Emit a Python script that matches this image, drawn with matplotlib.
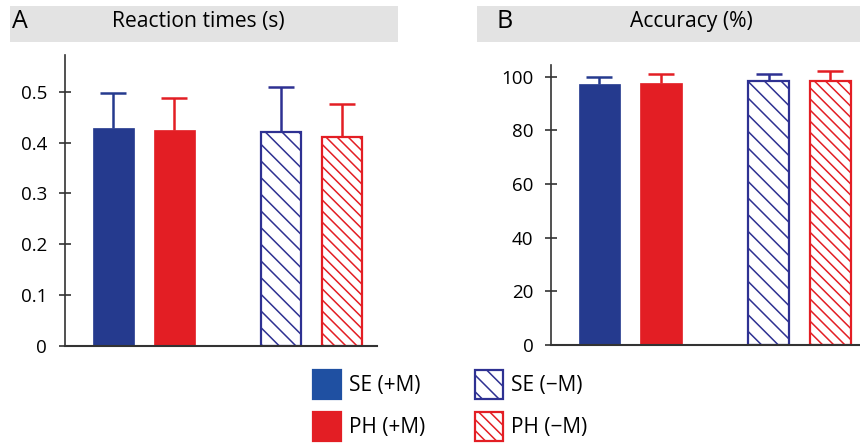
import matplotlib
matplotlib.use("Agg")
import matplotlib.pyplot as plt
from matplotlib.patches import Rectangle

plt.rcParams['font.family'] = ['Open Sans', 'DejaVu Sans']
plt.rcParams['hatch.linewidth'] = 1.1

# data
groups = ['SE (+M)', 'PH (+M)', 'SE (\u2212M)', 'PH (\u2212M)']
rt_mean = [0.428, 0.424, 0.421, 0.410]
rt_err = [0.070, 0.064, 0.088, 0.066]
acc_mean = [97.5, 97.8, 98.3, 98.5]
acc_err = [2.5, 3.2, 2.7, 3.7]

blue = '#253a8e'
red = '#e31e24'
hblue = '#2e3192'
legend_blue = '#1f50a2'
face = ['fill', 'fill', 'hatch', 'hatch']
colors = [blue, red, hblue, red]
hatches = [None, None, '\\\\', '\\\\\\']
xpos = [1, 2, 3.75, 4.75]

W, H = 860, 443
fig = plt.figure(figsize=(W / 100, H / 100), dpi=100)


def px_axes(left, right, top, bottom):
    return fig.add_axes([left / W, 1 - bottom / H, (right - left) / W, (bottom - top) / H])


def draw_bars(ax, means, errs):
    for i in range(len(means)):
        if face[i] == 'fill':
            ax.bar(xpos[i], means[i], width=0.67, color=colors[i], edgecolor=colors[i], linewidth=0.5, zorder=2)
        else:
            ax.bar(xpos[i], means[i], width=0.67, facecolor='white', edgecolor=colors[i],
                   hatch=hatches[i], linewidth=1.6, zorder=2)
        eb = ax.errorbar(xpos[i], means[i], yerr=[[0], [errs[i]]], fmt='none', ecolor=colors[i],
                         elinewidth=1.8, capsize=9.5, capthick=1.8, zorder=1)
        # only keep the upper cap
        eb[1][0].set_visible(False)
    for s in ['top', 'right']:
        ax.spines[s].set_visible(False)
    ax.spines['left'].set_color('#333333')
    ax.spines['bottom'].set_color('#333333')
    ax.spines['left'].set_linewidth(1.2)
    ax.spines['bottom'].set_linewidth(1.5)
    ax.set_xticks([])
    ax.tick_params(axis='y', direction='inout', length=9, width=1.2, color='#333333',
                   labelsize=13.5, pad=8)


# panel A
axA = px_axes(64.5, 376.7, 55, 346)
draw_bars(axA, rt_mean, rt_err)
axA.set_ylim(0, 0.572)
axA.set_xlim(0.2, 5.32)
axA.set_yticks([0, 0.1, 0.2, 0.3, 0.4, 0.5])
axA.set_yticklabels(['0', '0.1', '0.2', '0.3', '0.4', '0.5'])

# panel B
axB = px_axes(550.7, 860, 65, 345)
draw_bars(axB, acc_mean, acc_err)
axB.set_ylim(0, 104.4)
axB.set_xlim(0.207, 5.236)
axB.set_yticks([0, 20, 40, 60, 80, 100])

# header bands
fig.patches.append(Rectangle((10 / W, 1 - 42 / H), 388 / W, 36 / H, transform=fig.transFigure,
                             facecolor='#e3e3e3', edgecolor='none', zorder=0))
fig.patches.append(Rectangle((477 / W, 1 - 42 / H), 383 / W, 36 / H, transform=fig.transFigure,
                             facecolor='#e3e3e3', edgecolor='none', zorder=0))
fig.text(12 / W, 1 - 22 / H, 'A', fontsize=18, va='center', ha='left')
fig.text(198 / W, 1 - 21 / H, 'Reaction times (s)', fontsize=15.2, va='center', ha='center')
fig.text(497 / W, 1 - 22 / H, 'B', fontsize=18, va='center', ha='left')
fig.text(691 / W, 1 - 21 / H, 'Accuracy (%)', fontsize=15.2, va='center', ha='center')

# legend
leg_x = [313, 313, 475, 475]
leg_y = [370, 412, 370, 412]
leg_face = [legend_blue, red, 'white', 'white']
for i in range(4):
    r = Rectangle((leg_x[i] / W, 1 - (leg_y[i] + 29) / H), 28 / W, 29 / H, transform=fig.transFigure,
                  facecolor=leg_face[i], edgecolor=colors[i] if face[i] == 'hatch' else leg_face[i],
                  hatch=hatches[i], linewidth=1.6)
    fig.patches.append(r)
    fig.text((leg_x[i] + 36) / W, 1 - (leg_y[i] + 15) / H, groups[i], fontsize=15,
             va='center', ha='left')

fig.savefig('out.png', dpi=100)
